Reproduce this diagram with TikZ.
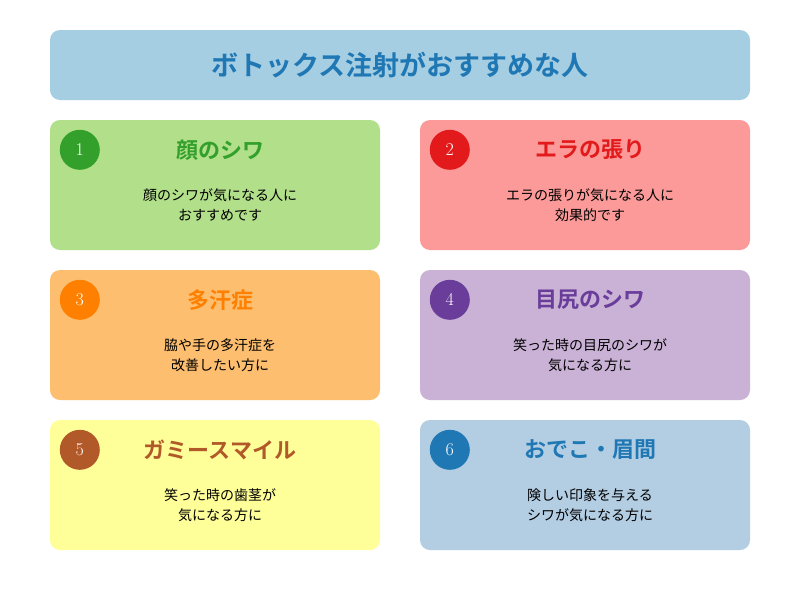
\documentclass[tikz,border=0pt]{standalone}
\usepackage{fontspec}
\newfontfamily\cjk{Noto Sans CJK JP}
\newfontfamily\cjkb{Noto Sans CJK JP Bold}
\definecolor{tbg}{HTML}{A6CEE3}\definecolor{tfg}{HTML}{1F78B4}
\definecolor{ga}{HTML}{B2DF8A}\definecolor{gb}{HTML}{33A02C}
\definecolor{ra}{HTML}{FB9A99}\definecolor{rb}{HTML}{E31A1C}
\definecolor{oa}{HTML}{FDBF6F}\definecolor{ob}{HTML}{FF7F00}
\definecolor{pa}{HTML}{CAB2D6}\definecolor{pb}{HTML}{6A3D9A}
\definecolor{ya}{HTML}{FFFF99}\definecolor{yb}{HTML}{B15928}
\definecolor{ba}{HTML}{B3CDE3}\definecolor{bb}{HTML}{1F78B4}
\begin{document}
\begin{tikzpicture}[x=1pt,y=-1pt,
 card/.style={rounded corners=10pt,inner sep=0,minimum width=330pt,minimum height=130pt},
 num/.style={circle,minimum size=40pt,inner sep=0,text=white,font=\fontsize{18}{18}\selectfont},
 ctitle/.style={font=\cjkb\fontsize{22}{22}\selectfont},
 body/.style={align=center,font=\cjk\fontsize{14}{20}\selectfont}]
\useasboundingbox (0,0) rectangle (800,600);
\fill[white] (0,0) rectangle (800,600);
\node[fill=tbg,rounded corners=10pt,minimum width=700pt,minimum height=70pt,inner sep=0,text=tfg,font=\cjkb\fontsize{27}{27}\selectfont] (title) at (400,65) {ボトックス注射がおすすめな人};
\def\card#1#2#3#4#5#6#7#8#9{%
 \node[card,fill=#3] (c#1) at (#5,#6) {};
 \node[num,fill=#4] (n#1) at ([shift={(30,30)}]c#1.north west) {#1};
 \node[ctitle,text=#4] (t#1) at ([shift={(5,-35)}]c#1.center) {#7};
 \node[body] (b#1) at ([shift={(5,20)}]c#1.center) {#8\\#9};}
\card{1}{}{ga}{gb}{215}{185}{顔のシワ}{顔のシワが気になる人に}{おすすめです}
\card{2}{}{ra}{rb}{585}{185}{エラの張り}{エラの張りが気になる人に}{効果的です}
\card{3}{}{oa}{ob}{215}{335}{多汗症}{脇や手の多汗症を}{改善したい方に}
\card{4}{}{pa}{pb}{585}{335}{目尻のシワ}{笑った時の目尻のシワが}{気になる方に}
\card{5}{}{ya}{yb}{215}{485}{ガミースマイル}{笑った時の歯茎が}{気になる方に}
\card{6}{}{ba}{bb}{585}{485}{おでこ・眉間}{険しい印象を与える}{シワが気になる方に}
\end{tikzpicture}
\end{document}
